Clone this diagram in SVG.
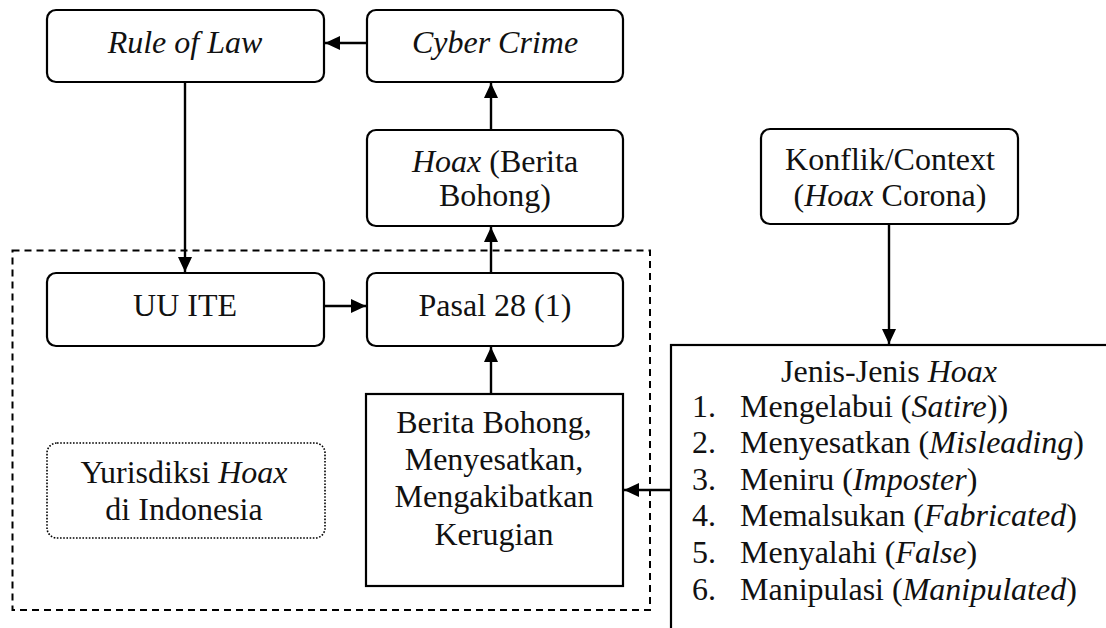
<svg xmlns="http://www.w3.org/2000/svg" width="1106" height="628" viewBox="0 0 1106 628">
<defs>
<style>
text{font-family:Liberation Serif,Times New Roman,Times,DejaVu Serif,Noto Serif,serif;font-size:32px;fill:#111;}
.c{text-anchor:middle;}
.i{font-style:italic;}
.box{fill:#fff;stroke:#000;stroke-width:2.2;}
.ln{stroke:#000;stroke-width:2.4;fill:none;}
</style>
<marker id="ah" viewBox="0 0 15 14" refX="15" refY="7" markerWidth="15" markerHeight="14" markerUnits="userSpaceOnUse" orient="auto">
<path d="M0,0 L15,7 L0,14 Z" fill="#000"/>
</marker>
</defs>
<rect width="1106" height="628" fill="#fff"/>
<g id="yurisdiksi-area">
<rect x="12.5" y="250.5" width="637.5" height="359.5" fill="none" stroke="#000" stroke-width="2" stroke-dasharray="7 5"/>
</g>
<g id="rule-of-law">
<rect class="box" x="47" y="10" width="277" height="72" rx="9"/>
<text class="c i" x="185" y="53">Rule of Law</text>
</g>
<g id="cyber-crime">
<rect class="box" x="367" y="10" width="256" height="72" rx="9"/>
<text class="c i" x="495" y="53">Cyber Crime</text>
</g>
<g id="hoax">
<rect class="box" x="367" y="130" width="256" height="96" rx="9"/>
<text class="c" x="495" y="172"><tspan class="i">Hoax</tspan> (Berita</text>
<text class="c" x="495" y="206">Bohong)</text>
</g>
<g id="konflik">
<rect class="box" x="761" y="129" width="257" height="95" rx="9"/>
<text class="c" x="890" y="170">Konflik/Context</text>
<text class="c" x="890" y="206">(<tspan class="i">Hoax</tspan> Corona)</text>
</g>
<g id="uu-ite">
<rect class="box" x="47" y="273" width="277" height="73" rx="9"/>
<text class="c" x="185" y="316">UU ITE</text>
</g>
<g id="pasal">
<rect class="box" x="367" y="273" width="256" height="73" rx="9"/>
<text class="c" x="495" y="316">Pasal 28 (1)</text>
</g>
<g id="berita">
<rect class="box" x="366" y="394" width="257" height="192"/>
<text class="c" x="494" y="433">Berita Bohong,</text>
<text class="c" x="494" y="470">Menyesatkan,</text>
<text class="c" x="494" y="507">Mengakibatkan</text>
<text class="c" x="494" y="545">Kerugian</text>
</g>
<g id="yurisdiksi">
<rect x="47" y="443" width="278" height="95" rx="10" fill="none" stroke="#000" stroke-width="1.6" stroke-dasharray="1.6 1.6"/>
<text class="c" x="184" y="483">Yurisdiksi <tspan class="i">Hoax</tspan></text>
<text class="c" x="184" y="520">di Indonesia</text>
</g>
<g id="jenis-hoax">
<rect class="box" x="671" y="345" width="460" height="300"/>
<text class="c" x="889" y="382">Jenis-Jenis <tspan class="i">Hoax</tspan></text>
<text x="692" y="417">1.</text><text x="740" y="417">Mengelabui (<tspan class="i">Satire</tspan>))</text>
<text x="692" y="453">2.</text><text x="740" y="453">Menyesatkan (<tspan class="i">Misleading</tspan>)</text>
<text x="692" y="490">3.</text><text x="740" y="490">Meniru (<tspan class="i">Imposter</tspan>)</text>
<text x="692" y="526">4.</text><text x="740" y="526">Memalsukan (<tspan class="i">Fabricated</tspan>)</text>
<text x="692" y="563">5.</text><text x="740" y="563">Menyalahi (<tspan class="i">False</tspan>)</text>
<text x="692" y="600">6.</text><text x="740" y="600">Manipulasi (<tspan class="i">Manipulated</tspan>)</text>
</g>
<g id="connectors">
<line class="ln" x1="367" y1="43" x2="325" y2="43" marker-end="url(#ah)"/>
<line class="ln" x1="491" y1="130" x2="491" y2="83" marker-end="url(#ah)"/>
<line class="ln" x1="491" y1="273" x2="491" y2="227" marker-end="url(#ah)"/>
<line class="ln" x1="185" y1="82" x2="185" y2="272" marker-end="url(#ah)"/>
<line class="ln" x1="324" y1="306" x2="366" y2="306" marker-end="url(#ah)"/>
<line class="ln" x1="491" y1="394" x2="491" y2="347" marker-end="url(#ah)"/>
<line class="ln" x1="889" y1="224" x2="889" y2="344" marker-end="url(#ah)"/>
<line class="ln" x1="671" y1="490" x2="624" y2="490" marker-end="url(#ah)"/>
</g>
</svg>
